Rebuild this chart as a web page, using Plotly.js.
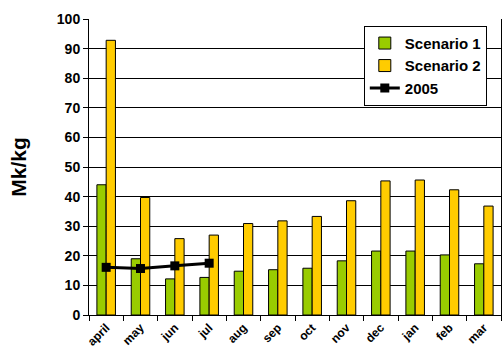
<!DOCTYPE html>
<html>
<head>
<meta charset="utf-8">
<script src="https://cdn.plot.ly/plotly-3.0.1.min.js"></script>
<style>html,body{margin:0;padding:0;background:#fff;}#chart{width:502px;height:358px;}</style>
</head>
<body>
<div id="chart"></div>
<script>
var months = ["april","may","jun","jul","aug","sep","oct","nov","dec","jan","feb","mar"];
var scenario1 = [44.0, 19.0, 12.2, 12.7, 14.8, 15.3, 15.8, 18.3, 21.6, 21.6, 20.3, 17.3];
var scenario2 = [92.8, 39.7, 25.8, 27.0, 30.9, 31.8, 33.3, 38.6, 45.3, 45.6, 42.3, 36.8];
var months2005 = ["april","may","jun","jul"];
var values2005 = [16.1, 15.7, 16.6, 17.5];
var yTicks = [0,10,20,30,40,50,60,70,80,90,100];

var bold = {family: "Liberation Sans, Arial, sans-serif", color: "#000", weight: "bold"};

var data = [
  {type: "bar", name: "Scenario 1", x: months, y: scenario1,
   marker: {color: "#99cc00", line: {color: "#000", width: 1}}},
  {type: "bar", name: "Scenario 2", x: months, y: scenario2,
   marker: {color: "#ffcc00", line: {color: "#000", width: 1}}},
  {type: "scatter", mode: "lines+markers", name: "2005", x: months2005, y: values2005,
   line: {color: "#000", width: 3}, marker: {symbol: "square", size: 9, color: "#000"}}
];

var layout = {
  width: 502, height: 358,
  margin: {l: 89, r: 1, t: 19, b: 42.5},
  paper_bgcolor: "#fff", plot_bgcolor: "#fff",
  barmode: "group", bargap: 0.46, bargroupgap: 0,
  showlegend: true,
  legend: {x: 0.667, y: 0.977, xanchor: "left", yanchor: "top",
           bgcolor: "#fff", bordercolor: "#000", borderwidth: 1,
           font: Object.assign({size: 15}, bold),
           tracegroupgap: 0, itemwidth: 30},
  xaxis: {type: "category", categoryorder: "array", categoryarray: months,
          range: [-0.5, 11.5],
          tickangle: -45, tickfont: Object.assign({size: 12}, bold),
          ticks: "outside", tickson: "boundaries", ticklen: 5, tickcolor: "#000",
          showline: true, linecolor: "#000", linewidth: 1, mirror: false,
          showgrid: false, zeroline: false},
  yaxis: {range: [0, 100], tickvals: yTicks, ticktext: yTicks.map(String),
          tickfont: Object.assign({size: 14}, bold),
          ticks: "outside", ticklen: 5, tickcolor: "#000",
          showline: true, linecolor: "#000", linewidth: 1, mirror: true,
          showgrid: true, gridcolor: "#000", gridwidth: 1, zeroline: false,
          title: {text: "Mk/kg", font: Object.assign({size: 21}, bold), standoff: 24}}
};

Plotly.newPlot("chart", data, layout, {displayModeBar: false, staticPlot: true});
</script>
</body>
</html>
